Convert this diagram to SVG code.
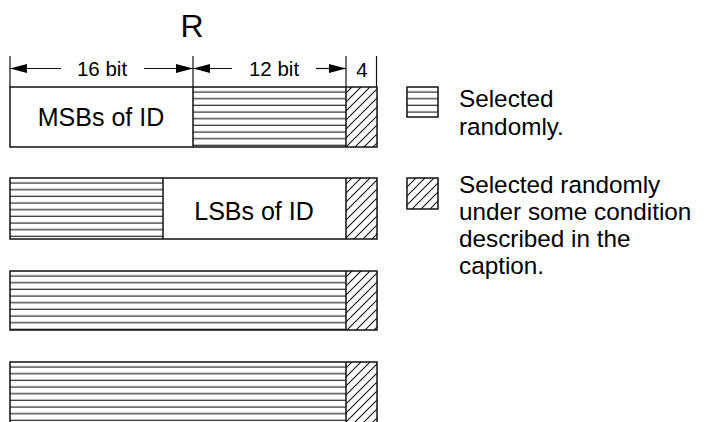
<svg xmlns="http://www.w3.org/2000/svg" width="704" height="422" viewBox="0 0 704 422">
  <style>
    .lbl { font-family: "Liberation Sans", Arial, sans-serif; fill: #000; }
    .frame { fill: none; stroke: #111; stroke-width: 1.5; }
    .div { stroke: #111; stroke-width: 1.5; }
    .dim { stroke: #111; stroke-width: 1.2; fill: none; }
    .plain { fill: #fff; }
    .hz { fill: url(#hatchH); }
    .dg { fill: url(#hatchD); }
  </style>
  <defs>
    <!-- horizontal ruling, 6.67 px pitch -->
    <pattern id="hatchH" patternUnits="userSpaceOnUse" width="20" height="6.667">
      <rect width="20" height="6.667" fill="#fff"/>
      <line x1="0" y1="5" x2="20" y2="5" stroke="#111" stroke-width="1.1"/>
    </pattern>
    <!-- 45 degree ruling, 9 px pitch -->
    <pattern id="hatchD" patternUnits="userSpaceOnUse" width="9" height="9">
      <rect width="9" height="9" fill="#fff"/>
      <path d="M-1,1 L1,-1 M0,9 L9,0 M8,10 L10,8" stroke="#111" stroke-width="1.1"/>
    </pattern>
    <marker id="arrow" markerUnits="userSpaceOnUse" markerWidth="18" markerHeight="10" refX="17" refY="4.5" orient="auto">
      <path d="M0,0 L17,4.5 L0,9 Z" fill="#000"/>
    </marker>
  </defs>

  <!-- title -->
  <text class="lbl" x="192" y="37" font-size="32" text-anchor="middle">R</text>

  <!-- dimension lines above the first word -->
  <g id="connectors">
    <line class="dim" x1="10" y1="56" x2="10" y2="87"/>
    <line class="dim" x1="193" y1="56" x2="193" y2="87"/>
    <line class="dim" x1="346" y1="56" x2="346" y2="87"/>
    <line class="dim" x1="376.5" y1="56" x2="376.5" y2="87"/>
    <line class="dim" x1="61" y1="68.5" x2="10" y2="68.5" marker-end="url(#arrow)"/>
    <line class="dim" x1="144" y1="68.5" x2="193" y2="68.5" marker-end="url(#arrow)"/>
    <line class="dim" x1="232" y1="68.5" x2="193" y2="68.5" marker-end="url(#arrow)"/>
    <line class="dim" x1="316" y1="68.5" x2="346" y2="68.5" marker-end="url(#arrow)"/>
    <text class="lbl" x="102" y="75.5" font-size="20.5" text-anchor="middle">16 bit</text>
    <text class="lbl" x="274" y="75.5" font-size="20.5" text-anchor="middle">12 bit</text>
    <text class="lbl" x="362" y="76.5" font-size="20.5" text-anchor="middle">4</text>
  </g>

  <!-- word 1: MSBs of ID | random 12 bit | 4 bit -->
  <g id="row1" transform="translate(10,87)">
    <rect class="plain" x="0" y="0" width="183" height="60"/>
    <rect class="hz" x="183" y="0" width="153" height="60"/>
    <rect class="dg" x="336" y="0" width="31" height="60"/>
    <rect class="frame" x="0" y="0" width="367" height="60"/>
    <line class="div" x1="183" y1="0" x2="183" y2="60"/>
    <line class="div" x1="336" y1="0" x2="336" y2="60"/>
    <text class="lbl" x="91" y="38.5" font-size="25" text-anchor="middle">MSBs of ID</text>
  </g>

  <!-- word 2: random | LSBs of ID | 4 bit -->
  <g id="row2" transform="translate(10,178)">
    <rect class="hz" x="0" y="0" width="153" height="61"/>
    <rect class="plain" x="153" y="0" width="183" height="61"/>
    <rect class="dg" x="336" y="0" width="31" height="61"/>
    <rect class="frame" x="0" y="0" width="367" height="61"/>
    <line class="div" x1="153" y1="0" x2="153" y2="61"/>
    <line class="div" x1="336" y1="0" x2="336" y2="61"/>
    <text class="lbl" x="244" y="41.5" font-size="25" text-anchor="middle">LSBs of ID</text>
  </g>

  <!-- word 3: fully random -->
  <g id="row3" transform="translate(10,271)">
    <rect class="hz" x="0" y="0" width="336" height="59"/>
    <rect class="dg" x="336" y="0" width="31" height="59"/>
    <rect class="frame" x="0" y="0" width="367" height="59"/>
    <line class="div" x1="336" y1="0" x2="336" y2="59"/>
  </g>

  <!-- word 4: fully random -->
  <g id="row4" transform="translate(10,362)">
    <rect class="hz" x="0" y="0" width="336" height="64"/>
    <rect class="dg" x="336" y="0" width="31" height="64"/>
    <rect class="frame" x="0" y="0" width="367" height="64"/>
    <line class="div" x1="336" y1="0" x2="336" y2="64"/>
  </g>

  <!-- legend -->
  <g id="legend-random">
    <g transform="translate(407,87)">
      <rect class="hz" x="0" y="0" width="31" height="30"/>
      <rect class="frame" x="0" y="0" width="31" height="30"/>
    </g>
    <text class="lbl" font-size="24.3">
      <tspan x="459" y="107">Selected</tspan>
      <tspan x="459" y="135">randomly.</tspan>
    </text>
  </g>
  <g id="legend-conditional">
    <g transform="translate(407,178)">
      <rect class="dg" x="0" y="0" width="31" height="31"/>
      <rect class="frame" x="0" y="0" width="31" height="31"/>
    </g>
    <text class="lbl" font-size="24.3">
      <tspan x="459" y="193">Selected randomly</tspan>
      <tspan x="459" y="220">under some condition</tspan>
      <tspan x="459" y="247">described in the</tspan>
      <tspan x="459" y="274">caption.</tspan>
    </text>
  </g>
</svg>
